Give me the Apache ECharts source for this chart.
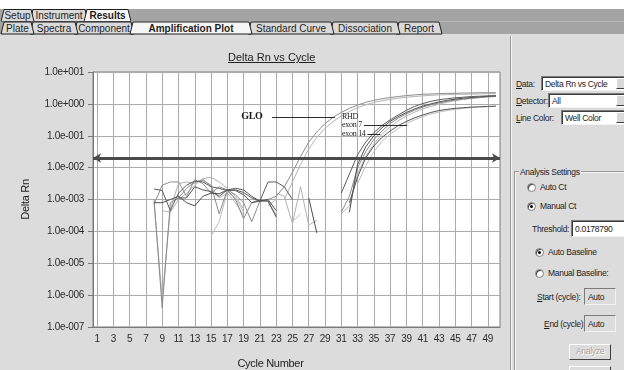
<!DOCTYPE html>
<html>
<head>
<meta charset="utf-8">
<script src="https://cdn.jsdelivr.net/npm/echarts@6/dist/echarts.min.js"></script>
<style>
  html, body { margin: 0; padding: 0; width: 624px; height: 370px; overflow: hidden; background: #fff;
    font-family: "Liberation Sans", Arial, sans-serif; font-size: 8.5px; letter-spacing: -0.3px; color: #1c1c1c; }
  #panel { position: absolute; left: 0; top: 34px; width: 624px; height: 336px; background: #dcdcdc; }
  #divider { position: absolute; left: 510px; top: 36px; width: 1px; height: 334px; background: #9a9a9a; border-right: 1px solid #f4f4f4; }
  #chart { position: absolute; left: 0; top: 0; width: 512px; height: 370px; }
  #title { position: absolute; left: 228px; top: 51px; font-size: 11px; letter-spacing: 0; text-decoration: underline; color: #222; }
  .t { position: absolute; white-space: nowrap; }
  .u { text-decoration: underline; }
  .box { position: absolute; box-sizing: border-box; height: 15px; background: #fff; white-space: nowrap; overflow: hidden;
    border-top: 1px solid #7c7c7c; border-left: 1px solid #7c7c7c; border-right: 1px solid #f2f2f2; border-bottom: 1px solid #f2f2f2;
    box-shadow: inset 1px 1px 0 #3c3c3c; padding: 1px 0 0 3px; line-height: 12px; }
  .box.off { background: #dcdcdc; box-shadow: none; }
  .drop { position: absolute; top: 1px; width: 11px; height: 11px; background: #d8d8d8;
    border-right: 1px solid #404040; border-bottom: 1px solid #404040; border-top: 1px solid #fff; border-left: 1px solid #fff; box-sizing: border-box; }
  .radio { position: absolute; width: 9px; height: 9px; border-radius: 50%; background: #fff; box-sizing: border-box;
    border: 1px solid #808080; box-shadow: inset 1px 1px 0 #404040; }
  .radio.on::after { content: ""; position: absolute; left: 2px; top: 2px; width: 3px; height: 3px; border-radius: 50%; background: #000; }
  .group { position: absolute; left: 514px; top: 171px; width: 130px; height: 230px; border: 1px solid #9a9a9a; box-shadow: 1px 1px 0 #f4f4f4, inset 1px 1px 0 #f4f4f4; }
  .btn { position: absolute; box-sizing: border-box; height: 16px; text-align: center; line-height: 13px; color: #a4a4a4; background: #dcdcdc;
    border-top: 1px solid #fff; border-left: 1px solid #fff; border-right: 1px solid #404040; border-bottom: 1px solid #404040; text-shadow: 1px 1px 0 #fff; }
</style>
</head>
<body>
<div id="panel"></div>
<svg id="tabs" width="624" height="36" style="position:absolute;left:0;top:0;letter-spacing:0" font-family="Liberation Sans, Arial, sans-serif" font-size="10"></svg>
<div id="divider"></div>
<div id="chart"></div>
<div id="title">Delta Rn vs Cycle</div>

<div class="t" style="left:516px;top:79px"><span class="u">D</span>ata:</div>
<div class="box" style="left:541px;top:76px;width:92px">Delta Rn vs Cycle<div class="drop" style="left:74px"></div></div>
<div class="t" style="left:516px;top:96px"><span class="u">D</span>etector:</div>
<div class="box" style="left:548px;top:93px;width:84px">All<div class="drop" style="left:67px"></div></div>
<div class="t" style="left:516px;top:113px"><span class="u">L</span>ine Color:</div>
<div class="box" style="left:561px;top:110px;width:71px">Well Color<div class="drop" style="left:54px"></div></div>

<div class="group"></div>
<div class="t" style="left:519px;top:167px;background:#dcdcdc;padding:0 1px">Analysis Settings</div>
<div class="radio" style="left:527px;top:183px"></div><div class="t" style="left:540px;top:182px">Auto Ct</div>
<div class="radio on" style="left:527px;top:202px"></div><div class="t" style="left:540px;top:201px">Manual Ct</div>
<div class="t" style="left:532px;top:224px">Threshold:</div>
<div class="box" style="left:571px;top:220px;width:60px;height:17px;padding-top:2px">0.0178790</div>
<div class="radio on" style="left:535px;top:248px"></div><div class="t" style="left:548px;top:247px">Auto Baseline</div>
<div class="radio" style="left:535px;top:269px"></div><div class="t" style="left:548px;top:268px">Manual Baseline:</div>
<div class="t" style="left:537px;top:292px"><span class="u">S</span>tart (cycle):</div>
<div class="box off" style="left:584px;top:288px;width:32px;height:17px;padding-top:2px">Auto</div>
<div class="t" style="left:544px;top:319px"><span class="u">E</span>nd (cycle):</div>
<div class="box off" style="left:584px;top:315px;width:32px;height:17px;padding-top:2px">Auto</div>
<div class="btn" style="left:569px;top:344px;width:42px">Analyze</div>
<div class="btn" style="left:569px;top:366px;width:42px"></div>

<script>
// tab strip
const topTabs = ["Setup", "Instrument", "Results"];
const topTabEdges = [[1, 34], [30, 88], [84, 131]];
const subTabs = ["Plate", "Spectra", "Component", "Amplification Plot", "Standard Curve", "Dissociation", "Report"];
const subTabEdges = [[1, 34], [30, 78], [74, 134], [130, 252], [248, 334], [330, 400], [396, 442]];

function drawTabs(names, edges, selected, y0, y1) {
  let s = `<rect x="0" y="${y0}" width="624" height="${y1 - y0}" fill="#a4a4a4"/>`;
  const order = names.map((_, i) => i).reverse().filter(i => i !== selected).concat([selected]);
  order.forEach(i => {
    const [a, b] = edges[i];
    const on = i === selected;
    s += `<polygon points="${a},${y1} ${a + 3},${y0 + 0.5} ${b - 3},${y0 + 0.5} ${b},${y1}" fill="${on ? "#f6f6f6" : "#dadada"}" stroke="#1e1e1e" stroke-width="1"/>`;
    s += `<text x="${(a + b) / 2}" y="${y1 - 2.5}" text-anchor="middle" fill="#1e1e1e" font-weight="${on ? "bold" : "normal"}">${names[i]}</text>`;
  });
  return s;
}
document.getElementById("tabs").innerHTML =
  `<rect x="0" y="0" width="624" height="9" fill="#fff"/>` +
  drawTabs(topTabs, topTabEdges, 2, 9, 21.5) + drawTabs(subTabs, subTabEdges, 3, 21.5, 34);

// chart data
const cycles = [1, 2, 3, 4, 5, 6, 7, 8, 9, 10, 11, 12, 13, 14, 15, 16, 17, 18, 19, 20,
  21, 22, 23, 24, 25, 26, 27, 28, 29, 30, 31, 32, 33, 34, 35, 36, 37, 38, 39, 40,
  41, 42, 43, 44, 45, 46, 47, 48, 49, 50];
const xTickLabels = ["1", "3", "5", "7", "9", "11", "13", "15", "17", "19", "21", "23", "25",
  "27", "29", "31", "33", "35", "37", "39", "41", "43", "45", "47", "49"];
const yTickLabels = ["1.0e-007", "1.0e-006", "1.0e-005", "1.0e-004", "1.0e-003", "1.0e-002", "1.0e-001", "1.0e+000", "1.0e+001"];
const threshold = 0.017879;

const _ = null;
const rhdA = [_, _, _, _, _, _, _,
  2.14e-3, 1.91e-3, 4.47e-4, 1.58e-3, 2.82e-3, 3.8e-3, 3.55e-3, 2.51e-3, 2.24e-3, 1.91e-3, 2.0e-3, 1.66e-3, 1.12e-3, 8.91e-4, 3.55e-3, 3.55e-3, 2.51e-3, 1.0e-3,
  _, _, _, _, _,
  1.58e-3, 6.31e-3, 2.51e-2, 6.31e-2, 0.126, 0.209, 0.316, 0.447, 0.631, 0.832, 1.02, 1.2, 1.35, 1.45, 1.55, 1.62, 1.7, 1.74, 1.78, 1.82];
const rhdB = [_, _, _, _, _, _, _,
  7.94e-4, 7.94e-4, 1.0e-3, 1.26e-3, 7.94e-4, 6.31e-4, 1.26e-3, 1.58e-3, 1.51e-3, 2.0e-3, 1.91e-3, 1.41e-3, 7.94e-4, 8.91e-4, 1.0e-3, 4.47e-4,
  _, _, _,
  1.12e-3, 8.91e-5,
  _, _, _,
  3.98e-4, 1.26e-2, 4.47e-2, 0.1, 0.178, 0.282, 0.398, 0.537, 0.692, 0.851, 1.0, 1.15, 1.29, 1.41, 1.51, 1.58, 1.66, 1.74, 1.78];
const exon7A = [_, _, _, _, _, _, _,
  1.0e-3, 3.98e-7, 7.94e-4, 1.12e-3, 2.24e-3, 3.55e-3, 3.98e-3, 2.82e-3, 3.55e-4, 2.0e-3, 1.0e-3, 2.51e-4, 7.94e-4, 1.0e-3, 8.91e-4, 3.16e-4,
  _, _, _, _, _, _, _,
  3.98e-4, 1.26e-3, 1.0e-2, 3.16e-2, 7.59e-2, 0.141, 0.24, 0.355, 0.49, 0.631, 0.794, 0.933, 1.07, 1.2, 1.32, 1.41, 1.51, 1.58, 1.66, 1.7];
const exon7B = [_, _, _, _, _, _, _,
  7.94e-4, 7.94e-7, 5.01e-4, 3.16e-3, 3.55e-3, 3.16e-3, 4.47e-3, 5.01e-3, 3.55e-3, 2.24e-3, 1.26e-3, 5.01e-4,
  _, _, _,
  1.58e-3, 1.26e-3, 1.78e-4, 2.51e-3, 1.58e-4, 2.24e-4,
  _, _,
  3.55e-4, 6.31e-4, 6.31e-3, 2.24e-2, 5.62e-2, 0.112, 0.191, 0.295, 0.417, 0.55, 0.692, 0.832, 0.977, 1.12, 1.26, 1.38, 1.48, 1.58, 1.66, 1.74];
const exon14A = [_, _, _, _, _, _, _, _, _, _,
  1.12e-3, 1.12e-3, 2.51e-3, 2.0e-3, 1.78e-3, 1.26e-3, 2.0e-3, 2.24e-3, 2.0e-3, 1.26e-3, 8.91e-4, 8.91e-4, 2.82e-4,
  _, _, _, _, _, _, _, _,
  7.94e-4, 5.01e-3, 2.0e-2, 4.79e-2, 8.91e-2, 0.141, 0.209, 0.282, 0.363, 0.447, 0.537, 0.617, 0.676, 0.724, 0.759, 0.794, 0.813, 0.832, 0.851];
const exon14B = [_, _, _, _, _, _, _, _, _, _, _, _, _, _,
  7.08e-5, 2.0e-4, 1.78e-3, 1.12e-3, 3.98e-4,
  _, _, _, _, _,
  2.0e-4, 3.55e-4,
  _, _, _, _, _, _,
  3.16e-3, 1.12e-2, 3.16e-2, 6.61e-2, 0.112, 0.17, 0.24, 0.316, 0.398, 0.479, 0.55, 0.617, 0.676, 0.724, 0.759, 0.794, 0.813, 0.832];
const gloA = [_, _, _, _, _, _, _,
  7.08e-4, 2.82e-3, 3.55e-3, 3.55e-3, 1.26e-3, 4.17e-3, 3.16e-3, 1.58e-3, 2.51e-3, 2.0e-3, 1.41e-3, 7.94e-4, 2.0e-4, 8.91e-4, 1.0e-3, 1.26e-3, 2.51e-3,
  7.08e-3, 2.24e-2, 6.31e-2, 0.132, 0.24, 0.38, 0.537, 0.724, 0.912, 1.12, 1.29, 1.45, 1.58, 1.7, 1.82, 1.91, 2.0, 2.04, 2.09, 2.14, 2.14, 2.19, 2.19, 2.24, 2.24, 2.24];
const gloB = [_, _, _, _, _, _, _, _,
  4.47e-4, 3.98e-4, 1.0e-3, 1.58e-3, 2.82e-3, 4.47e-3, 2.51e-3, 1.12e-3, 1.58e-3, 7.94e-4, 3.16e-4,
  _, _,
  6.31e-4, 1.0e-3, 1.0e-3, 3.55e-3, 1.26e-2, 3.8e-2, 8.91e-2, 0.17, 0.282, 0.417, 0.575, 0.759, 0.933, 1.1, 1.26, 1.38, 1.51, 1.62, 1.7,
  1.78, 1.86, 1.91, 1.95, 2.0, 2.0, 2.04, 2.04, 2.09, 2.09];

const wells = [
  { name: "exon 14 B", data: exon14B, color: "#bdbdbd" },
  { name: "exon 7 B", data: exon7B, color: "#b2b2b2" },
  { name: "GLO B", data: gloB, color: "#b4b4b4" },
  { name: "GLO A", data: gloA, color: "#8e8e8e" },
  { name: "exon 7 A", data: exon7A, color: "#8a8a8a" },
  { name: "exon 14 A", data: exon14A, color: "#555555" },
  { name: "RHD B", data: rhdB, color: "#4e4e4e" },
  { name: "RHD A", data: rhdA, color: "#5c5c5c" },
];

// annotations: [cycle, deltaRn]
const noteTexts = ["GLO", "RHD", "exon 7", "exon 14"];
const noteAt = [[18.7, 0.4], [31.1, 0.39], [31.1, 0.22], [31.1, 0.115]];
const leaderLines = [[[22.5, 0.4], [30.2, 0.4]], [[33.8, 0.22], [39.1, 0.22]], [[34.2, 0.115], [35.8, 0.115]]];

const chart = echarts.init(document.getElementById("chart"));
const axisGray = "#7a7a7a";
const gridGray = "#ababab";

chart.setOption({
  animation: false,
  backgroundColor: "transparent",
  textStyle: { fontFamily: "Liberation Sans, Arial, sans-serif" },
  grid: {
    left: 93, top: 72, width: 407, height: 255,
    containLabel: false, outerBoundsMode: "none",
    show: true, backgroundColor: "#fff", borderColor: axisGray, borderWidth: 1,
  },
  xAxis: {
    type: "value",
    min: 0.5,
    max: 50.5,
    interval: 0.5,
    name: "Cycle Number",
    nameLocation: "middle",
    nameGap: 31,
    nameTextStyle: { color: "#222", fontSize: 11, padding: [0, 52, 0, 0] },
    axisLine: { lineStyle: { color: axisGray } },
    axisTick: { show: false },
    axisLabel: { color: "#2a2a2a", fontSize: 10, margin: 7, showMinLabel: true, showMaxLabel: true,
      formatter: v => (xTickLabels.includes(String(v)) ? String(v) : "") },
    // gridline on every 4th half-cycle tick: cycles 1, 3, 5, ...
    splitLine: { show: true, lineStyle: { color: ["transparent", gridGray, "transparent", "transparent"], width: 1 } },
  },
  yAxis: {
    type: "log",
    logBase: 10,
    min: 1e-7,
    max: 10,
    name: "Delta Rn",
    nameLocation: "middle",
    nameGap: 55,
    nameRotate: 90,
    nameTextStyle: { color: "#222", fontSize: 11 },
    axisLine: { show: true, lineStyle: { color: axisGray } },
    axisTick: { show: true, length: 5, lineStyle: { color: axisGray } },
    axisLabel: { color: "#2a2a2a", fontSize: 10, margin: 9, formatter: v => yTickLabels[Math.round(Math.log10(v)) + 7] },
    splitLine: { show: true, lineStyle: { color: gridGray, width: 1 } },
  },
  series: wells.map((w, i) => ({
    name: w.name,
    type: "line",
    data: w.data.map((v, k) => [cycles[k], v]),
    showSymbol: false,
    symbol: "none",
    connectNulls: false,
    silent: true,
    lineStyle: { color: w.color, width: 1 },
    markLine: i === wells.length - 1 ? {
      silent: true,
      symbol: ["arrow", "arrow"],
      symbolSize: [7, 8],
      label: { show: false },
      lineStyle: { color: "#4a4a4a", width: 3, type: "solid" },
      data: [{ yAxis: threshold }],
    } : undefined,
  })),
});

const toPx = p => chart.convertToPixel({ gridIndex: 0 }, p);
const graphics = [];
noteTexts.forEach((t, i) => {
  const [x, y] = toPx(noteAt[i]);
  graphics.push({
    type: "text", x, y, z: 10,
    style: {
      text: t,
      fill: "#1a1a1a",
      font: i === 0 ? 'bold 10px "Liberation Serif", serif' : '8px "Liberation Serif", serif',
      verticalAlign: "middle",
    },
  });
});
leaderLines.forEach(([p, q]) => {
  const a = toPx(p), b = toPx(q);
  graphics.push({
    type: "line", z: 10,
    shape: { x1: a[0], y1: Math.round(a[1]) + 0.5, x2: b[0], y2: Math.round(b[1]) + 0.5 },
    style: { stroke: "#2a2a2a", lineWidth: 1 },
  });
});
chart.setOption({ graphic: graphics });
</script>
</body>
</html>
